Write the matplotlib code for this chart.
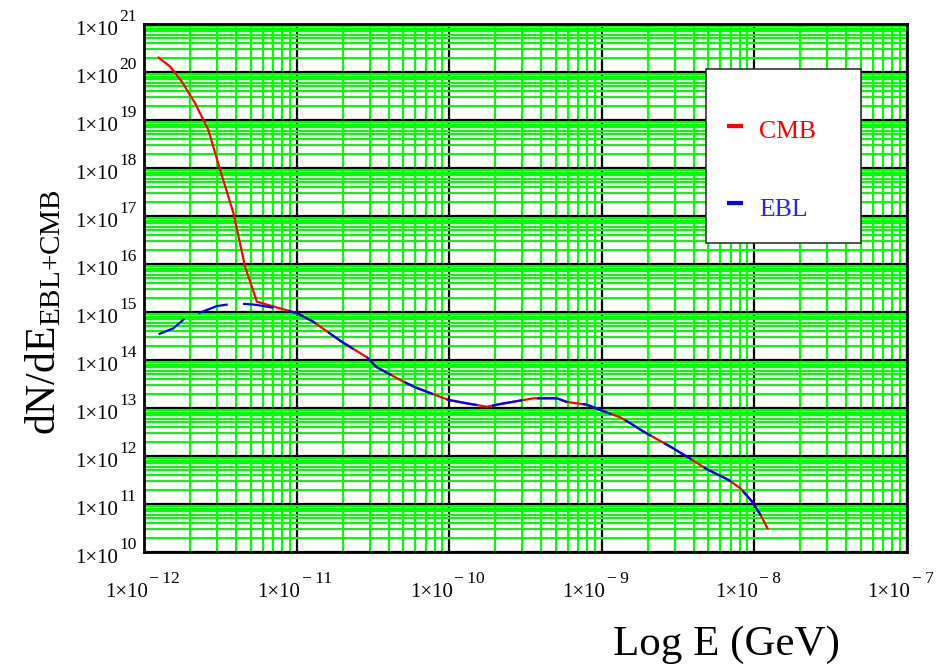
import matplotlib
matplotlib.use("Agg")
import matplotlib.pyplot as plt
from matplotlib.ticker import LogLocator, FixedLocator, NullFormatter
from matplotlib.patches import Rectangle
from matplotlib.lines import Line2D

plt.rcParams['font.family'] = ['Liberation Serif', 'DejaVu Serif']
plt.rcParams['mathtext.fontset'] = 'custom'
plt.rcParams['mathtext.rm'] = 'Liberation Serif'
plt.rcParams['mathtext.it'] = 'Liberation Serif:italic'
plt.rcParams['mathtext.bf'] = 'Liberation Serif:bold'
plt.rcParams['lines.scale_dashes'] = False

# ---- data ----
cmb_E = [1.24e-12, 1.48e-12, 1.76e-12, 2.15e-12, 2.63e-12, 3.14e-12, 3.84e-12,
         4.58e-12, 5.47e-12, 7.76e-12, 1.0e-11,
         1.28e-11, 1.97e-11, 2.88e-11, 3.35e-11, 4.77e-11, 5.97e-11, 7.87e-11,
         9.89e-11, 1.30e-10, 1.77e-10, 2.16e-10, 3.57e-10, 5.08e-10, 5.91e-10,
         8.0e-10, 9.77e-10, 1.32e-9, 1.54e-9, 1.88e-9, 2.82e-9, 3.62e-9,
         4.90e-9, 6.79e-9, 8.11e-9, 9.68e-9, 1.10e-8, 1.22e-8]
cmb_N = [1.99e20, 1.29e20, 6.3e19, 2.24e19, 6.2e18, 9.1e17, 1.15e17,
         8.7e15, 1.64e15, 1.19e15, 9.5e14,
         6.28e14, 2.40e14, 1.14e14, 7.05e13, 3.83e13, 2.70e13, 1.93e13,
         1.47e13, 1.25e13, 1.06e13, 1.21e13, 1.59e13, 1.59e13, 1.33e13,
         1.17e13, 9.08e12, 6.40e12, 4.80e12, 3.21e12, 1.56e12, 9.66e11,
         5.28e11, 3.16e11, 2.12e11, 1.12e11, 5.90e10, 3.12e10]

ebl_E = [1.24e-12, 1.55e-12, 1.85e-12, 2.32e-12, 2.99e-12, 3.74e-12, 4.65e-12,
         5.47e-12, 7.40e-12, 1.0e-11,
         1.28e-11, 1.97e-11, 2.88e-11, 3.35e-11, 4.77e-11, 5.97e-11, 7.87e-11,
         9.89e-11, 1.30e-10, 1.77e-10, 2.16e-10, 3.57e-10, 5.08e-10, 5.91e-10,
         8.0e-10, 9.77e-10, 1.32e-9, 1.54e-9, 1.88e-9, 2.82e-9, 3.62e-9,
         4.90e-9, 6.79e-9, 8.11e-9, 9.68e-9, 1.10e-8, 1.22e-8]
ebl_N = [3.43e14, 4.57e14, 7.4e14, 9.7e14, 1.33e15, 1.47e15, 1.47e15,
         1.40e15, 1.19e15, 9.5e14,
         6.28e14, 2.40e14, 1.14e14, 7.05e13, 3.83e13, 2.70e13, 1.93e13,
         1.47e13, 1.25e13, 1.06e13, 1.21e13, 1.59e13, 1.59e13, 1.33e13,
         1.17e13, 9.08e12, 6.40e12, 4.80e12, 3.21e12, 1.56e12, 9.66e11,
         5.28e11, 3.16e11, 2.12e11, 1.12e11, 5.90e10, 3.12e10]

x_exps = [-12, -11, -10, -9, -8, -7]
y_exps = list(range(10, 22))
series_labels = ['CMB', 'EBL']
xlabel = 'Log E (GeV)'
ylabel = r'$\mathrm{dN/dE}_{\mathrm{EBL{+}CMB}}$'

fig = plt.figure(figsize=(9.49, 6.68), dpi=100)
ax = fig.add_axes([0.1521, 0.1737, 0.8034, 0.7904])
ax.set_xscale('log')
ax.set_yscale('log')
ax.set_xlim(10.0 ** x_exps[0], 10.0 ** x_exps[-1])
ax.set_ylim(10.0 ** y_exps[0], 10.0 ** y_exps[-1])

ax.xaxis.set_major_locator(FixedLocator([10.0 ** e for e in x_exps]))
ax.yaxis.set_major_locator(FixedLocator([10.0 ** e for e in y_exps]))
ax.xaxis.set_minor_locator(LogLocator(base=10, subs=range(2, 10), numticks=100))
ax.yaxis.set_minor_locator(LogLocator(base=10, subs=range(2, 10), numticks=100))
ax.xaxis.set_minor_formatter(NullFormatter())
ax.yaxis.set_minor_formatter(NullFormatter())
ax.tick_params(axis='both', which='both', length=0,
               labelbottom=False, labelleft=False)

ax.set_axisbelow(True)
ax.grid(True, which='minor', color='#00ff00', lw=1.5, zorder=0)
ax.grid(True, which='major', color='black', lw=1.6, zorder=0.5)

for s in ax.spines.values():
    s.set_linewidth(2.0)
    s.set_color('black')

ax.plot(cmb_E, cmb_N, color='red', lw=1.6, zorder=3)
ax.plot(ebl_E, ebl_N, color='blue', lw=1.6, zorder=4, dashes=(22, 11))


def sup_text(e):
    s = str(abs(e))
    return ('\u2212\u2009' + s) if e < 0 else s


BASE_FS = 15
SUP_FS = 12.5
# tick labels: "1×10" with a raised exponent
for e in x_exps:
    v = 10.0 ** e
    ax.annotate('1\u00d710', xy=(v, 0), xycoords=('data', 'axes fraction'),
                xytext=(2.4, -32.2), textcoords='offset points',
                ha='right', va='baseline', fontsize=BASE_FS, annotation_clip=False)
    ax.annotate(sup_text(e), xy=(v, 0), xycoords=('data', 'axes fraction'),
                xytext=(3.6, -22.5), textcoords='offset points',
                ha='left', va='baseline', fontsize=SUP_FS, annotation_clip=False)
for e in y_exps:
    v = 10.0 ** e
    ax.annotate('1\u00d710', xy=(0, v), xycoords=('axes fraction', 'data'),
                xytext=(-18.6, -8.1), textcoords='offset points',
                ha='right', va='baseline', fontsize=BASE_FS, annotation_clip=False)
    ax.annotate(sup_text(e), xy=(0, v), xycoords=('axes fraction', 'data'),
                xytext=(-18.0, 2.2), textcoords='offset points',
                ha='left', va='baseline', fontsize=SUP_FS, annotation_clip=False)

# legend box (manual)
ax.add_patch(Rectangle((0.7364, 0.5847), 0.2033, 0.3295, transform=ax.transAxes,
                       facecolor='white', edgecolor='#333333', lw=1.2, zorder=10))
ax.add_line(Line2D([0.7639, 0.7849], [0.8068, 0.8068], transform=ax.transAxes,
                   color='red', lw=3, solid_capstyle='butt', zorder=11))
ax.add_line(Line2D([0.7639, 0.7849], [0.6604, 0.6604], transform=ax.transAxes,
                   color='blue', lw=3, solid_capstyle='butt', zorder=11))
ax.text(0.8063, 0.796, series_labels[0], transform=ax.transAxes, color='red',
        fontsize=18.5, va='center', ha='left', zorder=12)
ax.text(0.8063, 0.648, series_labels[1], transform=ax.transAxes, color='#2222ff',
        fontsize=18.5, va='center', ha='left', zorder=12)

fig.text(726 / 949, 1 - 645 / 668, xlabel, fontsize=31, ha='center', va='center')
fig.text(44 / 949, 1 - 312 / 668, ylabel, fontsize=30, ha='center', va='center',
         rotation=90)

fig.savefig('out.png', dpi=100)
